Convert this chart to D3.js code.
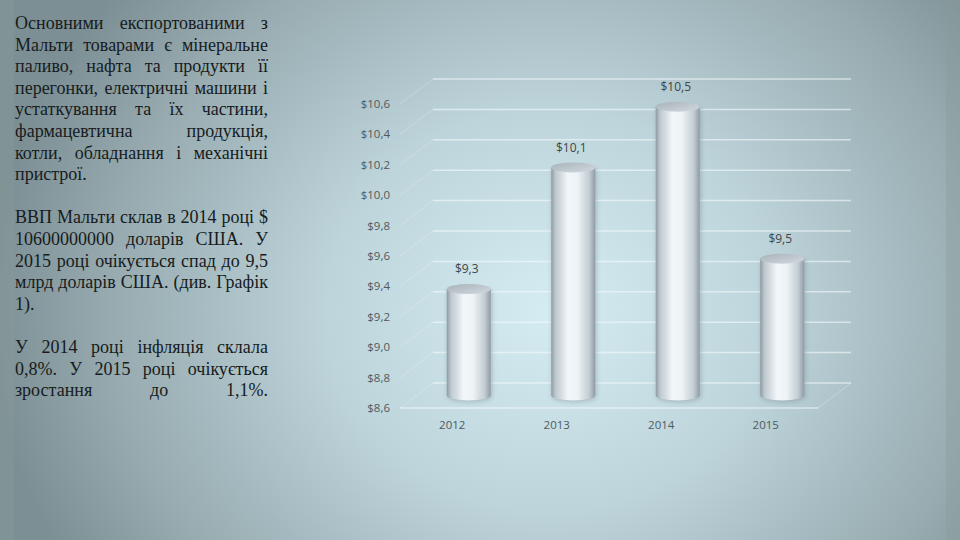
<!DOCTYPE html>
<html>
<head>
<meta charset="utf-8">
<script src="https://cdn.jsdelivr.net/npm/d3@7"></script>
<style>
  html, body { margin: 0; padding: 0; background: #9fb2b7; }
  svg { display: block; }
</style>
</head>
<body>
<svg id="slide" width="960" height="540"></svg>
<script>
// chart data
const years = ["2012", "2013", "2014", "2015"];
const gdp = [9.3, 10.1, 10.5, 9.5];
const yTicks = [8.6, 8.8, 9.0, 9.2, 9.4, 9.6, 9.8, 10.0, 10.2, 10.4, 10.6];

// slide text, line by line as in the picture
const paragraphs = [
  ["Основними експортованими з",
   "Мальти товарами є мінеральне",
   "паливо, нафта та продукти її",
   "перегонки, електричні машини і",
   "устаткування та їх частини,",
   "фармацевтична продукція,",
   "котли, обладнання і механічні",
   "пристрої."],
  ["ВВП Мальти склав в 2014 році $",
   "10600000000 доларів США. У",
   "2015 році очікується спад до 9,5",
   "млрд доларів США. (див. Графік",
   "1)."],
  ["У 2014 році інфляція склала",
   "0,8%. У 2015 році очікується",
   "зростання до 1,1%."]
];
// last lines that are left aligned instead of justified
const leftLines = ["пристрої.", "1)."];

let svg = d3.select("#slide");
let defs = svg.append("defs");

// background
let bg = defs.append("radialGradient").attr("id", "bg")
  .attr("gradientUnits", "userSpaceOnUse")
  .attr("cx", 550).attr("cy", 310).attr("r", 560)
  .attr("gradientTransform", "translate(550,310) scale(1,0.9) translate(-550,-310)");
bg.append("stop").attr("offset", 0).attr("stop-color", "#d6ecf3");
bg.append("stop").attr("offset", 0.4).attr("stop-color", "#bdd4da");
bg.append("stop").attr("offset", 0.78).attr("stop-color", "#97abb0");
bg.append("stop").attr("offset", 1).attr("stop-color", "#7c8f94");
svg.append("rect").attr("width", 960).attr("height", 540).attr("fill", "url(#bg)");
svg.append("rect").attr("x", 0).attr("width", 14).attr("height", 540).attr("fill", "#8a9a98").attr("opacity", 0.35);
svg.append("rect").attr("x", 946).attr("width", 14).attr("height", 540).attr("fill", "#8a9a98").attr("opacity", 0.35);

// left text, justified by hand; the slide font is a bit wider than Liberation Serif
let textG = svg.append("g")
  .style("font-family", "'Liberation Serif', 'Times New Roman', serif")
  .style("font-size", "18px")
  .style("fill", "#171b1d");
const textLeft = 15, textRight = 268, lineH = 21.6, firstBase = 29;

let probe = textG.append("text");
function widthOf(s) { probe.text(s); return probe.node().getComputedTextLength(); }
let maxW = 0;
paragraphs.flat().forEach(l => { if (!leftLines.includes(l)) maxW = Math.max(maxW, widthOf(l)); });
const sx = (textRight - textLeft) / (maxW + 2);
probe.remove();

let lineNo = 0;
paragraphs.forEach(par => {
  par.forEach(line => {
    let yy = firstBase + lineNo * lineH;
    let words = line.split(" ");
    if (leftLines.includes(line) || words.length == 1) {
      textG.append("text")
        .attr("transform", "translate(" + textLeft + "," + yy + ") scale(" + sx + ",1)")
        .text(line);
    } else {
      let ws = words.map(w => widthOf2(w) * sx);
      let gap = (textRight - textLeft - d3.sum(ws)) / (words.length - 1);
      let xx = textLeft;
      words.forEach((w, i) => {
        textG.append("text")
          .attr("transform", "translate(" + xx + "," + yy + ") scale(" + sx + ",1)")
          .text(w);
        xx += ws[i] + gap;
      });
    }
    lineNo++;
  });
  lineNo++; // blank line between paragraphs
});
function widthOf2(s) {
  let t = textG.append("text").text(s);
  let w = t.node().getComputedTextLength();
  t.remove();
  return w;
}

// chart: front plane scales, back wall is shifted by depth offset
const dx = 33, dy = -25;
let x = d3.scaleBand().domain(years).range([400, 818]).paddingInner(0.58).paddingOuter(0.29);
let y = d3.scaleLinear().domain([8.6, 10.6]).range([408, 104]);
const fmt = v => "$" + d3.format(".1f")(v).replace(".", ",");

let chart = svg.append("g");

// back wall grid
chart.selectAll("line.grid").data(yTicks)
  .join("line")
  .attr("class", "grid")
  .attr("x1", 400 + dx).attr("x2", 818 + dx)
  .attr("y1", d => y(d) + dy).attr("y2", d => y(d) + dy)
  .attr("stroke", "#f4fafc").attr("stroke-width", 1.5).attr("opacity", 0.6);

// side wall grid
chart.selectAll("line.side").data(yTicks)
  .join("line")
  .attr("class", "side")
  .attr("x1", 400).attr("x2", 400 + dx)
  .attr("y1", d => y(d)).attr("y2", d => y(d) + dy)
  .attr("stroke", "#f4fafc").attr("stroke-width", 1).attr("opacity", 0.25);

// floor front edge and right edge
chart.append("line")
  .attr("x1", 400).attr("x2", 818).attr("y1", y(8.6)).attr("y2", y(8.6))
  .attr("stroke", "#f4fafc").attr("stroke-width", 1.5).attr("opacity", 0.6);
chart.append("line")
  .attr("x1", 818).attr("x2", 818 + dx).attr("y1", y(8.6)).attr("y2", y(8.6) + dy)
  .attr("stroke", "#f4fafc").attr("stroke-width", 1).attr("opacity", 0.3);

// y axis labels
chart.selectAll("text.ytick").data(yTicks)
  .join("text")
  .attr("class", "ytick")
  .attr("x", 390).attr("y", d => y(d) + 4)
  .attr("text-anchor", "end")
  .style("font-family", "'Open Sans', 'Noto Sans', sans-serif")
  .style("font-size", "11.5px")
  .style("fill", "#505a5e")
  .text(fmt);

// x axis labels
chart.selectAll("text.xtick").data(years)
  .join("text")
  .attr("class", "xtick")
  .attr("x", d => x(d) + x.bandwidth() / 2)
  .attr("y", 429)
  .attr("text-anchor", "middle")
  .style("font-family", "'Open Sans', 'Noto Sans', sans-serif")
  .style("font-size", "11.5px")
  .style("fill", "#505a5e")
  .text(d => d);

// cylinder gradients
let bodyGrad = defs.append("linearGradient").attr("id", "cylBody");
[[0, "#8e9ba3"], [0.1, "#bfc9cf"], [0.38, "#f1f6f9"], [0.6, "#edf3f6"], [0.86, "#c3cdd3"], [1, "#8f9ba3"]]
  .forEach(s => bodyGrad.append("stop").attr("offset", s[0]).attr("stop-color", s[1]));
let capGrad = defs.append("linearGradient").attr("id", "cylTop").attr("x1", 0).attr("y1", 0).attr("x2", 1).attr("y2", 1);
capGrad.append("stop").attr("offset", 0).attr("stop-color", "#a7b2b9");
capGrad.append("stop").attr("offset", 1).attr("stop-color", "#d2dadf");
let shadow = defs.append("filter").attr("id", "shadow").attr("x", "-30%").attr("y", "-10%").attr("width", "160%").attr("height", "120%");
shadow.append("feGaussianBlur").attr("stdDeviation", 2.5);

const rx = 22, ry = 5;
const base = y(8.6) + dy / 2;
let bars = chart.selectAll("g.bar").data(years.map((d, i) => ({ year: d, value: gdp[i] })))
  .join("g")
  .attr("class", "bar");

function cylPath(d) {
  let cx = x(d.year) + x.bandwidth() / 2 + dx / 2;
  let t = y(d.value) + dy / 2;
  return "M" + (cx - rx) + "," + t +
    " L" + (cx - rx) + "," + base +
    " A" + rx + "," + ry + " 0 0 0 " + (cx + rx) + "," + base +
    " L" + (cx + rx) + "," + t + " Z";
}

bars.append("path")
  .attr("d", cylPath)
  .attr("fill", "#6f7f88").attr("opacity", 0.45)
  .attr("transform", "translate(1,1)")
  .attr("filter", "url(#shadow)");
bars.append("path")
  .attr("d", cylPath)
  .attr("fill", "url(#cylBody)");
bars.append("ellipse")
  .attr("cx", d => x(d.year) + x.bandwidth() / 2 + dx / 2)
  .attr("cy", d => y(d.value) + dy / 2)
  .attr("rx", rx).attr("ry", ry)
  .attr("fill", "url(#cylTop)");

// value labels
bars.append("text")
  .attr("x", d => x(d.year) + x.bandwidth() / 2 + dx / 2 - 2)
  .attr("y", d => y(d.value) + dy / 2 - 16)
  .attr("text-anchor", "middle")
  .style("font-family", "'Open Sans', 'Noto Sans', sans-serif")
  .style("font-size", "12px")
  .style("fill", "#3e4649")
  .text(d => fmt(d.value));
</script>
</body>
</html>
